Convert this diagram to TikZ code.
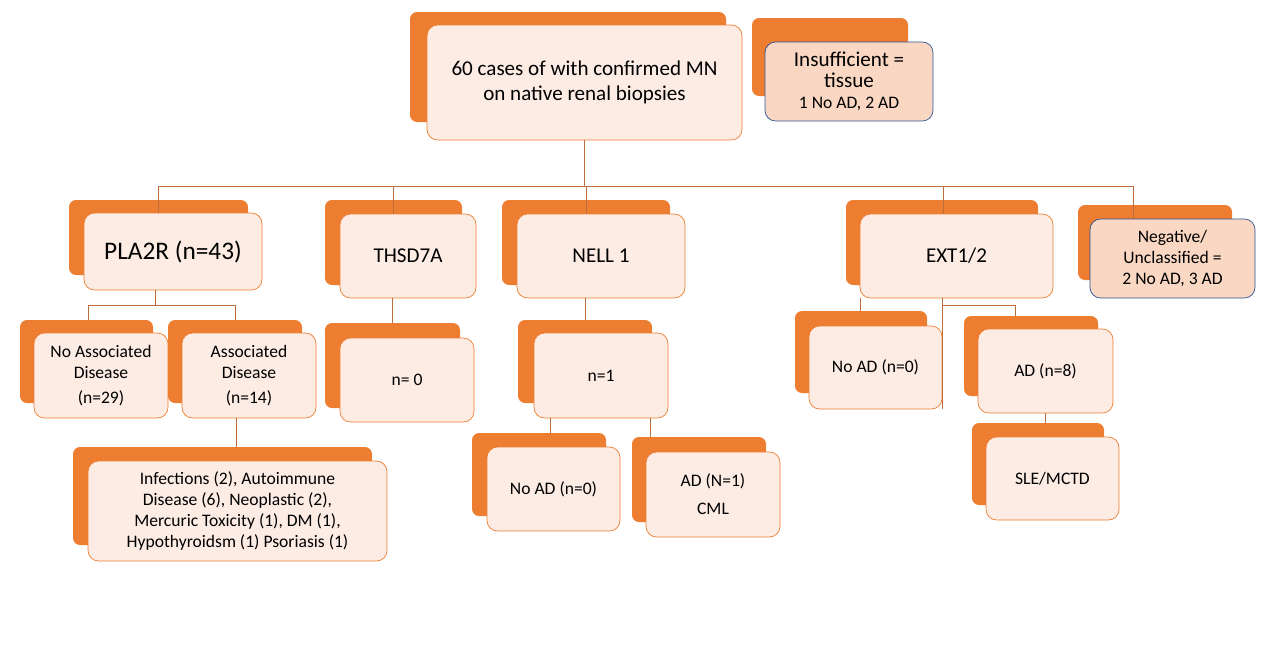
\documentclass[tikz,border=0pt]{standalone}
\usepackage{fontspec}
\setmainfont{Carlito}
\definecolor{orng}{RGB}{237,125,49}
\definecolor{peach}{RGB}{252,236,228}
\definecolor{peachb}{RGB}{249,215,194}
\definecolor{lnk}{RGB}{190,110,60}
\definecolor{navy}{RGB}{47,85,151}
\tikzset{
	back/.style={fill=orng, rounded corners=4pt},
	front/.style={draw=orng, fill=peach, rounded corners=6pt, thin, align=center},
	frontb/.style={front, draw=navy, fill=peachb},
	link/.style={draw=lnk, thin}
}
\begin{document}
\begin{tikzpicture}[x=0.02cm, y=-0.02cm]
	\useasboundingbox (0,0) rectangle (1280,670);
	% hintere Kaesten
	\foreach \a/\b/\c/\d in {410/12/726/122, 752/18/908/96, 69/200/248/275,
		325/200/462/285, 502/200/670/285, 846/200/1038/285, 1078/205/1232/280,
		20/320/153/403, 168/320/302/403, 325/323/460/408, 518/320/652/403,
		795/311/927/393, 964/316/1098/396, 972/423/1104/505, 73/447/372/545,
		472/433/606/516, 632/437/766/522}
		\fill[back] (\a,\b) rectangle (\c,\d);
	% vordere Kaesten
	\node[front, minimum width=6.3cm, minimum height=2.3cm, font=\large] (top) at (584.5,82.5)
		{60 cases of with confirmed MN\\on native renal biopsies};
	\node[frontb, minimum width=3.36cm, minimum height=1.58cm] (insuf) at (849,81.5)
		{\large Insufficient =\\\large tissue\\ 1 No AD, 2 AD};
	\node[front, minimum width=3.56cm, minimum height=1.54cm, font=\Large] (pla) at (173,251.5) {PLA2R (n=43)};
	\node[front, minimum width=2.72cm, minimum height=1.68cm, font=\large] (thsd) at (408,256) {THSD7A};
	\node[front, minimum width=3.36cm, minimum height=1.68cm, font=\large] (nell) at (601,256) {NELL 1};
	\node[front, minimum width=3.86cm, minimum height=1.68cm, font=\large] (ext) at (956.5,256) {EXT1/2};
	\node[frontb, minimum width=3.3cm, minimum height=1.58cm] (neg) at (1172.5,258.5)
		{Negative/\\Unclassified =\\2 No AD, 3 AD};
	\node[front, minimum width=2.68cm, minimum height=1.7cm] (noass) at (101,375.5)
		{No Associated\\Disease\\[2pt](n=29)};
	\node[front, minimum width=2.68cm, minimum height=1.7cm] (ass) at (249,375.5)
		{Associated\\Disease\\[2pt](n=14)};
	\node[front, minimum width=2.68cm, minimum height=1.68cm] (thn) at (407,380) {n= 0};
	\node[front, minimum width=2.68cm, minimum height=1.7cm] (nelln) at (601,375.5) {n=1};
	\node[front, minimum width=2.66cm, minimum height=1.66cm] (extno) at (875.5,367.5) {No AD (n=0)};
	\node[front, minimum width=2.7cm, minimum height=1.68cm] (extad) at (1045.5,371) {AD (n=8)};
	\node[front, minimum width=2.66cm, minimum height=1.66cm] (sle) at (1052.5,478.5) {SLE/MCTD};
	\node[front, minimum width=5.98cm, minimum height=2cm] (inf) at (237.5,511)
		{Infections (2), Autoimmune\\Disease (6), Neoplastic (2),\\Mercuric Toxicity (1), DM (1),\\Hypothyroidsm (1) Psoriasis (1)};
	\node[front, minimum width=2.66cm, minimum height=1.68cm] (nellno) at (553.5,489) {No AD (n=0)};
	\node[front, minimum width=2.68cm, minimum height=1.7cm] (nellad) at (713,494.5) {AD (N=1)\\[4pt]CML};
	% Verbindungen
	\draw[link] (top.south) -- ++(0,46) coordinate (bus);
	\draw[link] (pla.north -| 158,0) |- (bus) -| (neg.north -| 1133,0);
	\draw[link] (thsd.north -| 393,0) -- (393,186);
	\draw[link] (nell.north -| 586,0) -- (586,186);
	\draw[link] (ext.north -| 943,0) -- (943,186);
	\draw[link] (pla.south -| 155,0) -- ++(0,15) coordinate (pj);
	\draw[link] (88,305) -- (235,305);
	\draw[link] (88,305) -- (88,320);
	\draw[link] (235,305) -- (235,320);
	\draw[link] (thsd.south -| 392,0) -- (392,323);
	\draw[link] (nell.south -| 585,0) -- (585,320);
	\draw[link] (ass.south -| 236,0) -- (236,447);
	\draw[link] (nelln.south -| 550,0) -- (550,433);
	\draw[link] (nelln.south -| 650,0) -- (650,437);
	\draw[link] (ext.south -| 860,0) -- (860,311);
	\draw[link] (ext.south -| 942,0) -- (942,409);
	\draw[link] (942,305) -- (1015,305) -- (1015,316);
	\draw[link] (extad.south -| 1045,0) -- (1045,423);
\end{tikzpicture}
\end{document}
